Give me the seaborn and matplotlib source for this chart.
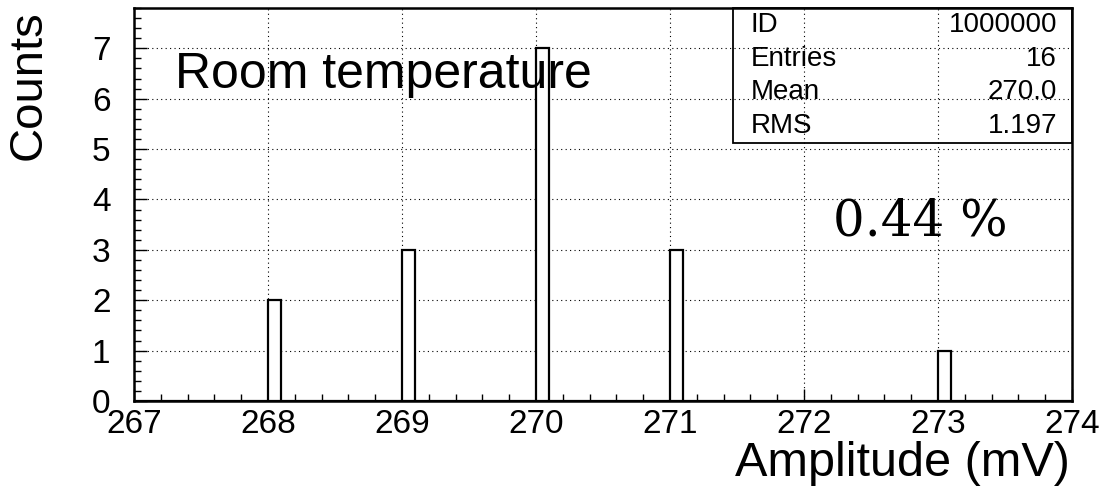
import numpy as np
import pandas as pd
import matplotlib
matplotlib.use("Agg")
import matplotlib.pyplot as plt
import seaborn as sns

# data
amplitudes = [268, 269, 270, 271, 273]
counts = [2, 3, 7, 3, 1]
x_ticks = [267, 268, 269, 270, 271, 272, 273, 274]
y_ticks = [0, 1, 2, 3, 4, 5, 6, 7]
stat_labels = ["ID", "Entries", "Mean", "RMS"]
stat_values = ["1000000", "16", "270.0", "1.197"]

sns.set_theme(style="white")
plt.rcParams['font.family'] = ['Liberation Sans', 'DejaVu Sans']
plt.rcParams['text.color'] = 'black'
plt.rcParams['xtick.color'] = 'black'
plt.rcParams['ytick.color'] = 'black'

fig = plt.figure(figsize=(11.07, 5), dpi=100)
ax = fig.add_axes([134/1107, 1-401/500, (1072-134)/1107, (401-8)/500])

df = pd.DataFrame({"amplitude": amplitudes, "count": counts})
edges = [float(e) for e in np.round(np.linspace(267, 274, 71), 1)]
sns.histplot(data=df, x="amplitude", weights="count", bins=edges, ax=ax,
             color="white", edgecolor="black", linewidth=1.6, alpha=1,
             zorder=3)

ax.set_xlim(267, 274)
ax.set_ylim(0, 7.8)
ax.set_xticks(x_ticks)
ax.set_yticks(y_ticks)
ax.set_xticks(np.arange(267, 274.01, 0.2), minor=True)
ax.set_yticks(np.arange(0, 7.81, 0.2), minor=True)
ax.tick_params(which='major', direction='in', length=9, width=1, colors='black',
               labelsize=24, bottom=True, left=True, labelcolor='black')
ax.tick_params(axis='y', which='major', pad=17)
ax.tick_params(axis='x', which='major', pad=6)
ax.tick_params(which='minor', direction='in', length=5, width=1, colors='black',
               bottom=True, left=True)
ax.grid(True, which='major', color='black', linestyle=(0, (1, 3)), linewidth=0.8)
ax.set_axisbelow(True)
for s in ax.spines.values():
    s.set_visible(True)
    s.set_color('black')
    s.set_linewidth(1.8)
ax.set_xlabel("")
ax.set_ylabel("")

# stat box
from matplotlib.patches import Rectangle
ax.add_patch(Rectangle((0.6386, 0.6565), 1-0.6386, 1-0.6565, transform=ax.transAxes,
                       fill=False, edgecolor='black', linewidth=1.3, zorder=5, clip_on=False))
row_y = [0.957, 0.871, 0.785, 0.700]
for lab, val, yy in zip(stat_labels, stat_values, row_y):
    ax.text(0.657, yy, lab, transform=ax.transAxes, ha='left', va='center', fontsize=20,
            color='black', zorder=6)
    ax.text(0.984, yy, val, transform=ax.transAxes, ha='right', va='center', fontsize=20,
            color='black', zorder=6)

ax.text(0.0437, 0.83, "Room temperature", transform=ax.transAxes, ha='left', va='center',
        fontsize=36, color='black', zorder=6)
ax.text(0.745, 0.455, "0.44 %", transform=ax.transAxes, ha='left', va='center',
        fontsize=36, family=['DejaVu Serif'], color='black', zorder=6)

fig.text(1070/1107, 1-464/500, "Amplitude (mV)", ha='right', va='center', fontsize=35,
         color='black')
fig.text(29/1107, 1-85/500, "Counts", rotation=90, ha='center', va='center', fontsize=34,
         color='black')

fig.savefig("out.png", dpi=100)
